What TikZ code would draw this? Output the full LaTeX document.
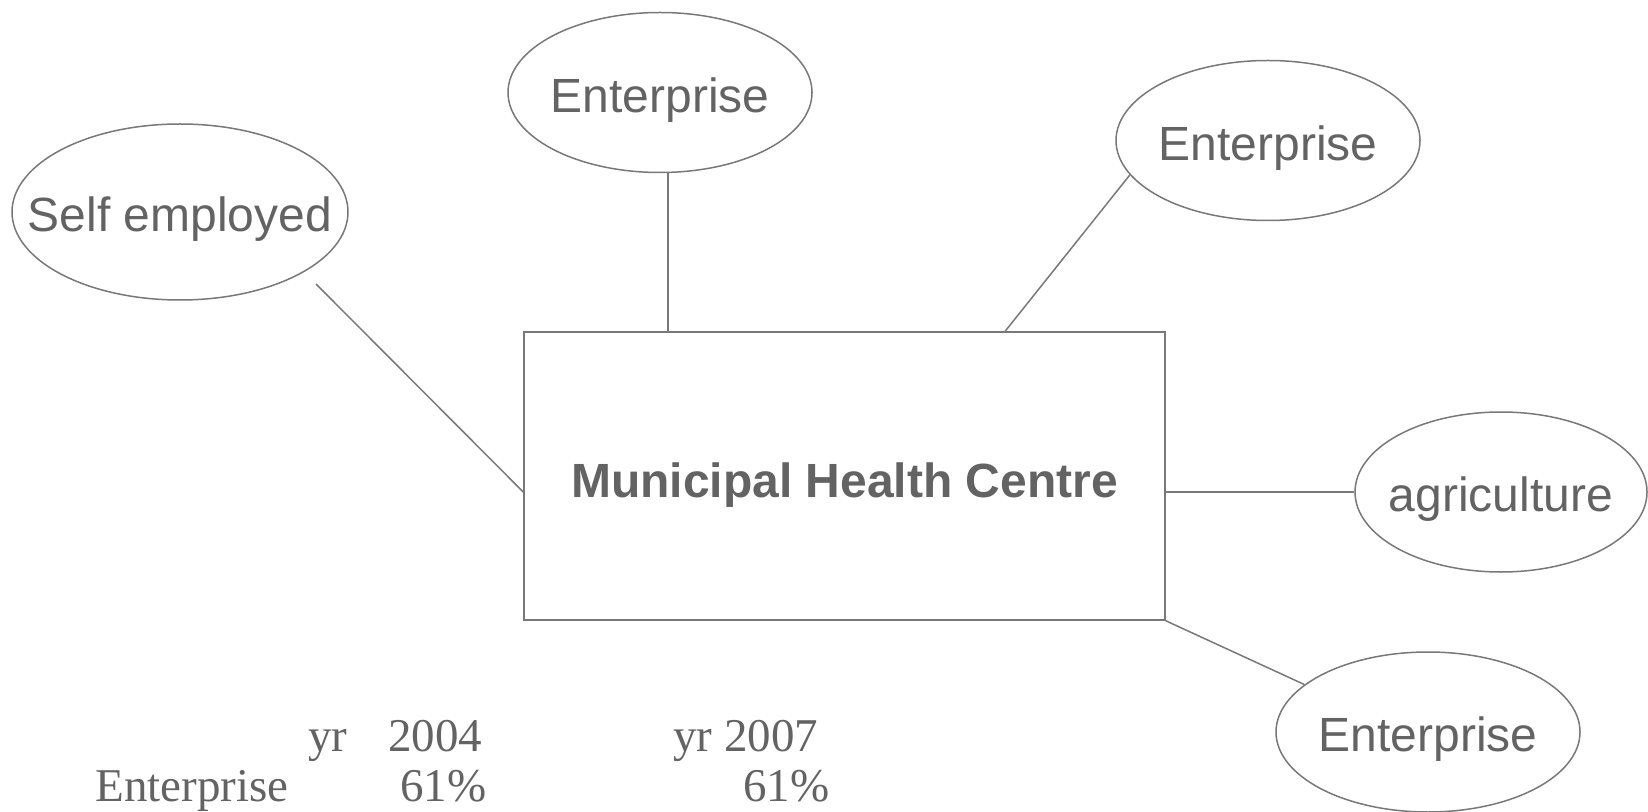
\documentclass[tikz,border=0pt]{standalone}
\usepackage{fontspec}
\setmainfont{Liberation Sans}
\newfontfamily\serifx{Liberation Serif}
\usetikzlibrary{shapes.geometric,calc}
\definecolor{txtgray}{RGB}{99,99,99}
\definecolor{linegray}{RGB}{120,120,120}
\newcommand{\lowtext}[2]{\raisebox{-#1}[0pt][0pt]{\makebox[0pt]{#2}}}
\begin{document}
\begin{tikzpicture}[x=0.5pt,y=-0.5pt,
  bubble/.style={ellipse,draw=linegray,line width=0.75pt,inner sep=0pt,text=txtgray,font=\fontsize{24}{28}\selectfont},
  centrebox/.style={draw=linegray,line width=0.75pt,inner sep=0pt,text=txtgray,font=\bfseries\fontsize{24}{28}\selectfont},
  conn/.style={draw=linegray,line width=0.75pt},
  tab/.style={anchor=base west,inner sep=0pt,text=txtgray,font=\serifx\fontsize{23.5}{27}\selectfont}]
\useasboundingbox (0,0) rectangle (1648,812);
\node[bubble,minimum width=168pt,minimum height=88pt] (self) at (180,212) {\lowtext{10pt}{Self employed}};
\node[bubble,minimum width=152pt,minimum height=80pt] (top) at (660,92.5) {\lowtext{9.8pt}{Enterprise}};
\node[bubble,minimum width=152pt,minimum height=80pt] (tr) at (1268,140.5) {\lowtext{9.8pt}{Enterprise}};
\node[bubble,minimum width=146pt,minimum height=80pt] (agri) at (1501,492) {\lowtext{9.8pt}{agriculture}};
\node[bubble,minimum width=152pt,minimum height=80pt] (bot) at (1428,732) {\lowtext{9.8pt}{Enterprise}};
\node[centrebox,minimum width=320.5pt,minimum height=144pt] (box) at (844.5,476) {\lowtext{10.5pt}{Municipal Health Centre}};
\coordinate (ta) at ($(box.north west)!0.225!(box.north east)$);
\coordinate (tb) at ($(box.north west)!0.75!(box.north east)$);
\coordinate (selfend) at (316,284);
\draw[conn] (ta) -- (ta |- top.south);
\draw[conn] (tb) -- (tr.194);
\draw[conn] (box.east |- agri.west) -- (agri.west);
\draw[conn] (box.south east) -- (bot.159);
\draw[conn] (selfend) -- ([yshift=-8pt]box.west);
\node[tab] (yra) at (308,751) {yr};
\node[tab] (ya) at (388,751) {2004};
\node[tab] (yrb) at (673,751) {yr 2007};
\node[tab] (ent) at (95,801) {Enterprise};
\node[tab] (pa) at (400,801) {61\%};
\node[tab] (pb) at (743,801) {61\%};
\end{tikzpicture}
\end{document}
